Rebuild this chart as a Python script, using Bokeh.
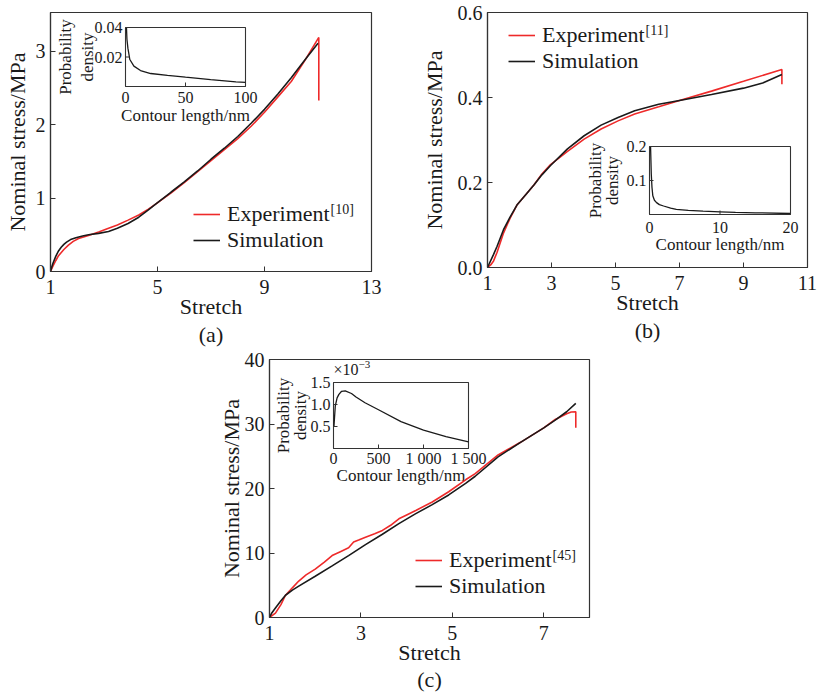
import math
from bokeh.plotting import figure
from bokeh.models import (Range1d, FixedTicker, Legend, LegendItem, Title, Spacer,
                          PrintfTickFormatter)
from bokeh.layouts import row, column
from bokeh.embed import file_html
from bokeh.resources import INLINE
from bokeh.core.properties import value

FONT = "Liberation Serif"
INK = "#1a1a1a"
FRAME = "#333333"
RED = "#ee2a2a"

# ---------------- data: panel (a) ----------------
a_exp_x = [1.0, 1.1, 1.2, 1.3, 1.5, 1.67, 1.85, 2.05, 2.42, 2.8, 3.17, 3.5, 3.9, 4.3,
           4.66, 4.93, 5.5, 6.0, 6.5, 7.0, 7.5, 8.0, 8.5, 9.0, 9.5, 10.0, 10.5, 11.03, 11.03]
a_exp_y = [0.0, 0.08, 0.15, 0.215, 0.30, 0.36, 0.41, 0.45, 0.49, 0.54, 0.59, 0.635, 0.70, 0.77,
           0.85, 0.918, 1.07, 1.21, 1.36, 1.51, 1.66, 1.81, 1.98, 2.17, 2.38, 2.59, 2.87, 3.19, 2.33]
a_sim_x = [1.0, 1.05, 1.1, 1.2, 1.3, 1.4, 1.5, 1.6, 1.75, 1.95, 2.2, 2.42, 2.8, 3.17, 3.5,
           3.9, 4.3, 4.66, 4.93, 5.5, 6.0, 6.5, 7.0, 7.5, 8.0, 8.5, 9.0, 9.5, 10.0, 10.5, 11.0]
a_sim_y = [0.0, 0.065, 0.12, 0.21, 0.28, 0.33, 0.37, 0.40, 0.435, 0.46, 0.485, 0.50, 0.52,
           0.545, 0.59, 0.655, 0.74, 0.84, 0.918, 1.08, 1.22, 1.37, 1.53, 1.68, 1.84, 2.02,
           2.21, 2.42, 2.64, 2.88, 3.11]
a_xticks = [1, 5, 9, 13]
a_yticks = [0, 1, 2, 3]
a_ins_x = [0.8, 1.2, 2.0, 3.6, 7.0, 12.5, 21.0, 35.0, 50.0, 71.0, 92.0, 100.0]
a_ins_y = [0.04, 0.032, 0.026, 0.0183, 0.0138, 0.0108, 0.0088, 0.0075, 0.0063, 0.0047, 0.0032, 0.0028]
a_ins_xticks = [0, 50, 100]
a_ins_xlabels = ["0", "50", "100"]
a_ins_yticks = [0.02, 0.04]
a_ins_ylabels = ["0.02", "0.04"]

# ---------------- data: panel (b) ----------------
b_exp_x = [1.0, 1.1, 1.19, 1.3, 1.5, 1.7, 1.92, 2.2, 2.45, 2.7, 2.97, 3.5, 4.02, 4.55, 5.08,
           5.6, 6.35, 7.0, 8.0, 9.0, 10.2, 10.2]
b_exp_y = [0.0, 0.006, 0.0155, 0.036, 0.081, 0.115, 0.147, 0.172, 0.194, 0.22, 0.242, 0.273,
           0.302, 0.326, 0.345, 0.361, 0.378, 0.393, 0.415, 0.438, 0.466, 0.431]
b_sim_x = [1.0, 1.19, 1.3, 1.5, 1.7, 1.92, 2.2, 2.45, 2.7, 2.97, 3.5, 4.02, 4.55, 5.08, 5.6,
           6.35, 7.0, 8.0, 9.0, 9.6, 10.2]
b_sim_y = [0.0, 0.031, 0.05, 0.089, 0.118, 0.147, 0.172, 0.194, 0.218, 0.240, 0.279, 0.31,
           0.335, 0.353, 0.369, 0.384, 0.393, 0.407, 0.422, 0.434, 0.454]
b_xticks = [1, 3, 5, 7, 9, 11]
b_yticks = [0.0, 0.2, 0.4, 0.6]
b_ins_x = [0.15, 0.25, 0.35, 0.47, 0.7, 1.0, 1.4, 2.0, 3.0, 3.8, 5.5, 7.6, 10.0, 12.2, 15.0, 20.0]
b_ins_y = [0.2, 0.12, 0.08, 0.055, 0.042, 0.035, 0.029, 0.025, 0.019, 0.015, 0.012, 0.010,
           0.008, 0.006, 0.005, 0.003]
b_ins_xticks = [0, 10, 20]
b_ins_xlabels = ["0", "10", "20"]
b_ins_yticks = [0.1, 0.2]
b_ins_ylabels = ["0.1", "0.2"]

# ---------------- data: panel (c) ----------------
c_exp_x = [1.0, 1.13, 1.25, 1.35, 1.5, 1.64, 1.8, 2.0, 2.2, 2.37, 2.55, 2.73, 2.84, 2.95, 3.1,
           3.3, 3.47, 3.65, 3.83, 4.0, 4.2, 4.56, 4.92, 5.29, 5.5, 6.0, 6.5, 7.0, 7.25, 7.5,
           7.6, 7.7, 7.7]
c_exp_y = [0.0, 0.68, 2.0, 3.45, 4.6, 5.65, 6.6, 7.5, 8.6, 9.6, 10.2, 10.8, 11.7, 12.0, 12.45,
           13.0, 13.5, 14.3, 15.3, 15.9, 16.6, 17.9, 19.5, 21.35, 22.3, 25.2, 27.2, 29.4, 30.7,
           31.6, 31.85, 31.9, 29.4]
c_sim_x = [1.0, 1.05, 1.13, 1.25, 1.35, 1.5, 1.64, 2.0, 2.37, 2.73, 3.1, 3.47, 3.83, 4.2, 4.56,
           4.92, 5.29, 5.5, 6.0, 6.5, 7.0, 7.25, 7.5, 7.7]
c_sim_y = [0.0, 0.7, 1.46, 2.6, 3.45, 4.25, 4.87, 6.4, 8.0, 9.6, 11.3, 12.9, 14.55, 16.1, 17.5,
           19.0, 20.8, 21.9, 24.9, 27.2, 29.4, 30.6, 31.9, 33.2]
c_xticks = [1, 3, 5, 7]
c_yticks = [0, 10, 20, 30, 40]
c_ins_x = [5, 20, 40, 60, 90, 130, 200, 250, 350, 500, 750, 1000, 1250, 1500]
c_ins_y = [0.5, 0.97, 1.15, 1.23, 1.3, 1.31, 1.25, 1.17, 1.04, 0.88, 0.61, 0.42, 0.27, 0.15]
c_ins_xticks = [0, 500, 1000, 1500]
c_ins_xlabels = ["0", "500", "1 000", "1 500"]
c_ins_yticks = [0.5, 1.0, 1.5]
c_ins_ylabels = ["0.5", "1.0", "1.5"]

legend_labels = ["Experiment", "Simulation"]
inset_ylabel_lines = ["Probability", "density"]
inset_xlabel = "Contour length/nm"
x_label = "Stretch"
y_label = "Nominal stress/MPa"


def add_inset(p, fw, fh, box, xr, yr, xs, ys, xticks, xlabels, yticks, ylabels,
              ylab_off, xlab_off, xtick_off, name):
    l, t, r, b = box
    x0, x1 = xr
    y0, y1 = yr
    kx = (x1 - x0) / (r - l)
    ky = (y1 - y0) / (b - t)
    p.extra_x_ranges[name] = Range1d(x0 - l * kx, x1 + (fw - r) * kx)
    p.extra_y_ranges[name] = Range1d(y0 - (fh - b) * ky, y1 + t * ky)
    kw = dict(x_range_name=name, y_range_name=name)
    p.quad(left=[x0], right=[x1], bottom=[y0], top=[y1], fill_color="white",
           line_color=FRAME, line_width=1.1, **kw)
    p.line(xs, ys, line_color=INK, line_width=1.3, **kw)
    tl = 4
    p.segment(x0=xticks, y0=[y0] * len(xticks), x1=xticks, y1=[y0 + tl * ky] * len(xticks),
              line_color=FRAME, line_width=1.0, **kw)
    p.segment(x0=[x0] * len(yticks), y0=yticks, x1=[x0 + tl * kx] * len(yticks), y1=yticks,
              line_color=FRAME, line_width=1.0, **kw)
    tk = dict(text_font=value(FONT), text_font_size="16px", text_color=INK,
              text_baseline="middle", **kw)
    p.text(x=xticks, y=[y0] * len(xticks), text=xlabels, y_offset=xtick_off,
           text_align="center", **tk)
    p.text(x=[x0] * len(yticks), y=yticks, text=ylabels, x_offset=-3,
           text_align="right", **tk)
    lk = dict(text_font=value(FONT), text_font_size="17px", text_color=INK,
              text_baseline="middle", text_align="center", **kw)
    p.text(x=[(x0 + x1) / 2], y=[y0], text=[inset_xlabel], y_offset=xlab_off, **lk)
    ym = (y0 + y1) / 2
    for line_txt, off in zip(inset_ylabel_lines, ylab_off):
        p.text(x=[x0], y=[ym], text=[line_txt], x_offset=off, angle=math.pi / 2, **lk)


def make_panel(xr, yr, xticks, yticks, fw, fh, bl, br, bt, bb, exp_x, exp_y, sim_x, sim_y,
               leg_loc, sup, caption, inset, yfmt=None, ylab_standoff=3, ins_extra=None,
               cap_standoff=0):
    p = figure(x_range=Range1d(*xr), y_range=Range1d(*yr), frame_width=fw, frame_height=fh,
               min_border_left=bl, min_border_right=br, min_border_top=bt, min_border_bottom=bb,
               output_backend="svg", toolbar_location=None,
               background_fill_color="white", border_fill_color="white")
    p.xgrid.visible = False
    p.ygrid.visible = False
    p.outline_line_color = FRAME
    p.outline_line_width = 1.2
    p.outline_line_alpha = 1.0
    p.xaxis.ticker = FixedTicker(ticks=xticks)
    p.yaxis.ticker = FixedTicker(ticks=yticks)
    if yfmt:
        p.yaxis.formatter = PrintfTickFormatter(format=yfmt)
    p.xaxis.axis_label = x_label
    p.yaxis.axis_label = y_label
    for ax in (p.xaxis[0], p.yaxis[0]):
        ax.major_tick_in = 5
        ax.major_tick_out = 0
        ax.minor_tick_line_color = None
        ax.axis_line_color = FRAME
        ax.axis_line_width = 1.2
        ax.major_tick_line_color = FRAME
        ax.major_label_text_font = FONT
        ax.major_label_text_font_size = "20px"
        ax.major_label_text_color = INK
        ax.axis_label_text_font = FONT
        ax.axis_label_text_font_size = "22px"
        ax.axis_label_text_font_style = "normal"
        ax.axis_label_text_color = INK
    p.xaxis.major_label_standoff = 8
    p.xaxis.axis_label_standoff = -3
    p.yaxis.major_label_standoff = 5
    p.yaxis.axis_label_standoff = ylab_standoff

    add_inset(p, fw, fh, **inset)
    if ins_extra:
        ins_extra(p, inset)

    r1 = p.line(exp_x, exp_y, line_color=RED, line_width=1.6)
    r2 = p.line(sim_x, sim_y, line_color=INK, line_width=1.6)

    leg = Legend(items=[LegendItem(label=legend_labels[0], renderers=[r1]),
                        LegendItem(label=legend_labels[1], renderers=[r2])],
                 location=leg_loc, orientation="vertical", glyph_width=27, glyph_height=20,
                 label_height=20, label_standoff=7, spacing=-3, padding=0, margin=0,
                 border_line_color=None, background_fill_alpha=0,
                 label_text_font=FONT, label_text_font_size="22px", label_text_color=INK)
    p.add_layout(leg)

    # superscript reference after "Experiment"
    lx, ly = leg_loc
    sx_px = lx + 27 + 7 + 103
    sy_px = ly + 14 + 25 + 5
    sxd = xr[0] + sx_px / fw * (xr[1] - xr[0])
    syd = yr[0] + sy_px / fh * (yr[1] - yr[0])
    p.text(x=[sxd], y=[syd], text=[sup], text_font=value(FONT), text_font_size="14px",
           text_color=INK, text_align="left", text_baseline="middle")

    cap = Title(text=caption, align="center", text_font=FONT, text_font_size="22px",
                text_font_style="normal", text_color=INK, standoff=cap_standoff)
    p.add_layout(cap, "below")
    return p


def c_exponent(p, inset):
    name = inset["name"]
    x0 = inset["xr"][0]
    y1 = inset["yr"][1]
    kw = dict(x_range_name=name, y_range_name=name, text_font=value(FONT), text_color=INK,
              text_align="left", text_baseline="middle")
    p.text(x=[x0], y=[y1], text=["\u00d710"], y_offset=-13, text_font_size="16px", **kw)
    p.text(x=[x0], y=[y1], text=["\u22123"], x_offset=25, y_offset=-18,
           text_font_size="11px", **kw)


pa = make_panel((1, 13), (0, 3.53), a_xticks, a_yticks, 321, 259, 50, 39, 8, 82,
                a_exp_x, a_exp_y, a_sim_x, a_sim_y, (143, 18), "[10]", "(a)",
                dict(box=(75, 15, 195, 74), xr=(0, 100), yr=(0, 0.04), xs=a_ins_x, ys=a_ins_y,
                     xticks=a_ins_xticks, xlabels=a_ins_xlabels, yticks=a_ins_yticks,
                     ylabels=a_ins_ylabels, ylab_off=(-60, -38), xlab_off=29, xtick_off=11,
                     name="ia"),
                ylab_standoff=3, cap_standoff=-3)
pb = make_panel((1, 11), (0, 0.6), b_xticks, b_yticks, 320, 255, 77, 10, 12, 82,
                b_exp_x, b_exp_y, b_sim_x, b_sim_y, (21, 193), "[11]", "(b)",
                dict(box=(162, 134, 303, 202), xr=(0, 20), yr=(0, 0.2), xs=b_ins_x, ys=b_ins_y,
                     xticks=b_ins_xticks, xlabels=b_ins_xlabels, yticks=b_ins_yticks,
                     ylabels=b_ins_ylabels, ylab_off=(-54, -37), xlab_off=30, xtick_off=13,
                     name="ib"),
                yfmt="%.1f", ylab_standoff=8, cap_standoff=-4)
pc = make_panel((1, 8), (0, 40), c_xticks, c_yticks, 320, 258, 79, 20, 10, 80,
                c_exp_x, c_exp_y, c_sim_x, c_sim_y, (146, 18), "[45]", "(c)",
                dict(box=(64, 23, 199, 89), xr=(0, 1500), yr=(0, 1.5), xs=c_ins_x, ys=c_ins_y,
                     xticks=c_ins_xticks, xlabels=c_ins_xlabels, yticks=c_ins_yticks,
                     ylabels=c_ins_ylabels, ylab_off=(-50, -33), xlab_off=27, xtick_off=10,
                     name="ic"),
                ylab_standoff=-2, ins_extra=c_exponent, cap_standoff=-5)

layout = column(row(pa, pb), row(Spacer(width=190, height=348), pc))

open("out.html", "w").write(file_html(layout, INLINE))
